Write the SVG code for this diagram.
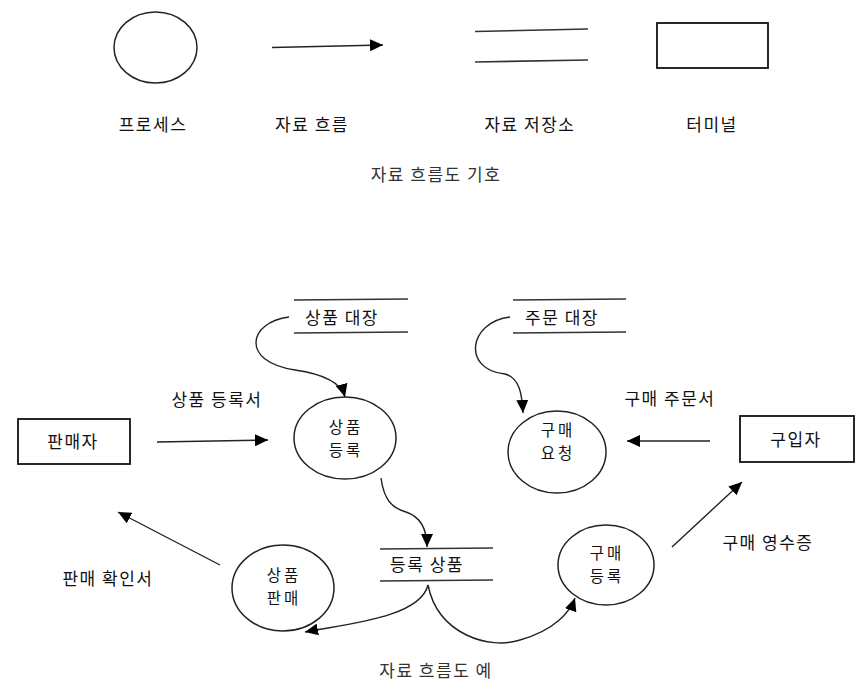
<svg xmlns="http://www.w3.org/2000/svg" width="865" height="696" viewBox="0 0 865 696">
<style>
text{font-family:"Noto Sans CJK KR","Noto Sans",sans-serif;font-size:17px;letter-spacing:1.5px;text-anchor:middle;fill:#111}
text.in{font-size:15.5px;letter-spacing:3px}
.title{fill:#333}
.shape{fill:none;stroke:#222;stroke-width:1.5}
.box{fill:#fff;stroke:#111;stroke-width:1.8}
.store{fill:none;stroke:#333;stroke-width:1.6}
.flowa{fill:none;stroke:#222;stroke-width:1.4;marker-end:url(#ah)}
</style>
<defs>
<marker id="ah" markerUnits="userSpaceOnUse" markerWidth="14" markerHeight="12" refX="13" refY="6" orient="auto">
<path d="M0,0 L13,6 L0,12 z" fill="#000"/>
</marker>
</defs>
<rect width="865" height="696" fill="#fff"/>

<g id="legend">
<g id="legend-process">
<ellipse class="shape" cx="155.5" cy="47.5" rx="41.5" ry="35.5"/>
<text x="153" y="131">프로세스</text>
</g>
<g id="legend-flow">
<line class="flowa" x1="272" y1="47.5" x2="383" y2="45"/>
<text x="312" y="131">자료 흐름</text>
</g>
<g id="legend-store">
<line class="store" x1="475" y1="31.5" x2="588" y2="29"/>
<line class="store" x1="475" y1="62" x2="588" y2="60"/>
<text x="530" y="131">자료 저장소</text>
</g>
<g id="legend-terminal">
<rect class="box" x="657" y="23" width="111" height="45"/>
<text x="712" y="131">터미널</text>
</g>
<text class="title" x="436" y="181">자료 흐름도 기호</text>
</g>

<g id="seller">
<rect class="box" x="18" y="419" width="112" height="45"/>
<text x="73" y="448">판매자</text>
</g>
<g id="buyer">
<rect class="box" x="740" y="416" width="114" height="46"/>
<text x="796" y="446">구입자</text>
</g>
<g id="product-register">
<ellipse class="shape" cx="345" cy="438" rx="51" ry="41"/>
<text class="in" x="346" y="433">상품</text>
<text class="in" x="346" y="455.5">등록</text>
</g>
<g id="purchase-request">
<ellipse class="shape" cx="557" cy="452" rx="49" ry="41"/>
<text class="in" x="558" y="436">구매</text>
<text class="in" x="558" y="458.5">요청</text>
</g>
<g id="purchase-register">
<ellipse class="shape" cx="606" cy="565" rx="48" ry="40"/>
<text class="in" x="607" y="559">구매</text>
<text class="in" x="607" y="581.5">등록</text>
</g>
<g id="product-sale">
<ellipse class="shape" cx="283" cy="588" rx="51" ry="43"/>
<text class="in" x="284" y="581">상품</text>
<text class="in" x="284" y="603.5">판매</text>
</g>
<g id="product-ledger">
<line class="store" x1="294" y1="300" x2="408" y2="299"/>
<line class="store" x1="294" y1="333" x2="408" y2="332"/>
<text x="342" y="324">상품 대장</text>
</g>
<g id="order-ledger">
<line class="store" x1="513" y1="300" x2="626" y2="299"/>
<line class="store" x1="513" y1="333" x2="626" y2="332"/>
<text x="562" y="324">주문 대장</text>
</g>
<g id="registered-products">
<line class="store" x1="380" y1="549" x2="493" y2="548"/>
<line class="store" x1="380" y1="581" x2="493" y2="580"/>
<text x="427" y="571">등록 상품</text>
</g>

<g id="connectors">
<line class="flowa" x1="157" y1="442" x2="268" y2="440"/>
<line class="flowa" x1="710" y1="441" x2="627" y2="441"/>
<line class="flowa" x1="672" y1="547" x2="742" y2="482"/>
<line class="flowa" x1="220" y1="565" x2="118" y2="512"/>
<path class="flowa" d="M289,317 C248,322 240,362 295,370 C330,375 342,386 345,397"/>
<path class="flowa" d="M510,317 C468,322 462,370 505,374 C520,378 522,395 523,413"/>
<path class="flowa" d="M381,478 C384,500 392,508 406,512 C421,517 427,530 427,547"/>
<path class="flowa" d="M428,585 C420,618 345,624 305,632"/>
<path class="flowa" d="M428,585 C438,635 490,650 520,640 C555,630 570,612 575,598"/>
</g>

<g id="labels">
<text x="217" y="406">상품 등록서</text>
<text x="670" y="405">구매 주문서</text>
<text x="768" y="549">구매 영수증</text>
<text x="108" y="585">판매 확인서</text>
<text class="title" x="436" y="677">자료 흐름도 예</text>
</g>
</svg>
